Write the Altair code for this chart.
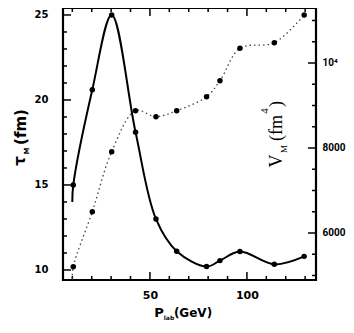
import altair as alt
import pandas as pd

# ---- data ----
P_LAB = [10.5, 20.3, 30.3, 42.6, 53.1, 63.8, 79.2, 86.1, 96.4, 114.1, 129.5]
TAU_M = [15.0, 20.6, 25.0, 18.1, 13.0, 11.1, 10.2, 10.55, 11.08, 10.33, 10.8]
V_M = [5207, 6501, 7913, 8878, 8737, 8878, 9207, 9584, 10346, 10478, 11130]
# curves start slightly before the first measured point
P_START = 10.0
TAU_START = 14.0
V_START = 4900

X_TICKS = list(range(10, 131, 10))
X_MAJOR = [50, 100]
TAU_TICKS = list(range(10, 26))
TAU_MAJOR = [10, 15, 20, 25]
V_TICKS = list(range(5000, 11001, 500))
V_MAJOR = [6000, 8000, 10000]

W, H = 253, 272
OX, OY = 63, 8  # plot-area origin on the page

pts = pd.DataFrame({"p": P_LAB, "tau": TAU_M, "v": V_M})
tau_line = pd.DataFrame({"p": [P_START] + P_LAB, "tau": [TAU_START] + TAU_M})
v_line = pd.DataFrame({"p": [P_START] + P_LAB, "v": [V_START] + V_M})

xs = alt.Scale(domain=[5.2, 135.6], nice=False, zero=False)
yl = alt.Scale(domain=[9.41, 25.41], nice=False, zero=False)
yr = alt.Scale(domain=[4894, 11294], nice=False, zero=False)

FONT = "DejaVu Sans"

x_axis = alt.Axis(values=X_MAJOR, ticks=False, tickSize=0, domain=False, grid=False,
                  labelPadding=9, labelFontSize=11, title=None)
yl_axis = alt.Axis(values=TAU_MAJOR, ticks=False, tickSize=0, domain=False, grid=False,
                   labelPadding=15, labelFontSize=10, title=None, orient="left")
yr_axis = alt.Axis(values=V_MAJOR, ticks=False, tickSize=0, domain=False, grid=False,
                   labelPadding=6, labelFontSize=10, labelFont="Roboto", title=None, orient="right",
                   labelExpr="datum.value == 10000 ? '10⁴' : format(datum.value, 'd')")

X = alt.X("p:Q", scale=xs, axis=x_axis)

solid = alt.Chart(tau_line).mark_line(color="black", strokeWidth=2, interpolate="catmull-rom").encode(
    x=X, y=alt.Y("tau:Q", scale=yl, axis=yl_axis))
solid_pts = alt.Chart(pts).mark_circle(color="black", size=30, opacity=1).encode(
    x=X, y=alt.Y("tau:Q", scale=yl, axis=yl_axis))

def yticks(vals, scale, axis, x0, x1):
    return alt.Chart(pd.DataFrame({"t": vals})).mark_rule(color="black", strokeWidth=1.5).encode(
        y=alt.Y("t:Q", scale=scale, axis=axis), x=alt.value(x0), x2=alt.value(x1))

def xticks(vals, y0, y1):
    return alt.Chart(pd.DataFrame({"t": vals})).mark_rule(color="black", strokeWidth=1.5).encode(
        x=alt.X("t:Q", scale=xs, axis=x_axis), y=alt.value(y0), y2=alt.value(y1))

tau_minor = [t for t in TAU_TICKS if t not in TAU_MAJOR]
v_minor = [t for t in V_TICKS if t not in V_MAJOR]
x_minor = [t for t in X_TICKS if t not in X_MAJOR]

def txt(s, ax, ay, size, angle=0, font=FONT, weight="bold"):
    return alt.Chart(pd.DataFrame({"t": [s]})).mark_text(
        font=font, fontSize=size, fontWeight=weight, angle=angle,
        align="center", baseline="middle", color="black").encode(
        x=alt.value(ax - OX), y=alt.value(ay - OY), text="t:N")

frame = alt.Chart(pd.DataFrame({"a": [0]})).mark_rect(
    fill=None, stroke="black", strokeWidth=2.2).encode(
    x=alt.value(0), x2=alt.value(W), y=alt.value(0), y2=alt.value(H))

SERIF = "Liberation Serif"
left = alt.layer(
    solid, solid_pts,
    yticks(TAU_MAJOR, yl, yl_axis, 0, 8), yticks(tau_minor, yl, yl_axis, 0, 4),
    xticks(X_MAJOR, H, H - 8), xticks(x_minor, H, H - 4),
    xticks(X_MAJOR, 0, 8), xticks(x_minor, 0, 4),
    frame,
    txt("(fm)", 21, 127, 15, angle=270),
    txt("τ", 20, 161, 15, angle=270),
    txt("M", 27, 151, 7, angle=270),
    txt("P", 159, 313, 13),
    txt("lab", 169, 318, 6),
    txt("(GeV)", 193, 313, 12),
    txt("V", 277, 161, 18, angle=270, font=SERIF, weight="normal"),
    txt("M", 284, 149, 9, angle=270, font=SERIF, weight="normal"),
    txt("(fm", 277, 128, 18, angle=270, font=SERIF, weight="normal"),
    txt("4", 265, 111, 11, angle=270, font=SERIF, weight="normal"),
    txt(")", 277, 104, 18, angle=270, font=SERIF, weight="normal"),
)

YR = alt.Y("v:Q", scale=yr, axis=yr_axis)
dotted = alt.Chart(v_line).mark_line(color="#444", strokeWidth=1.3, strokeDash=[1.5, 3],
                                     interpolate="catmull-rom").encode(x=X, y=YR)
dotted_pts = alt.Chart(pts).mark_circle(color="black", size=30, opacity=1).encode(x=X, y=YR)
right = alt.layer(dotted, dotted_pts,
                  yticks(V_MAJOR, yr, yr_axis, W, W - 8), yticks(v_minor, yr, yr_axis, W, W - 4))

chart = alt.layer(left, right).resolve_scale(y="independent").properties(
    width=W, height=H,
    autosize=alt.AutoSizeParams(type="none"),
    padding={"left": OX - 8, "top": OY - 8, "right": 354 - 8 - OX - W, "bottom": 333 - 8 - OY - H},
    background="white",
).configure_view(stroke=None).configure_axis(
    labelFont=FONT, labelFontWeight="bold", labelColor="black")

chart.save("out.html", embed_options={"renderer": "svg", "actions": False})
